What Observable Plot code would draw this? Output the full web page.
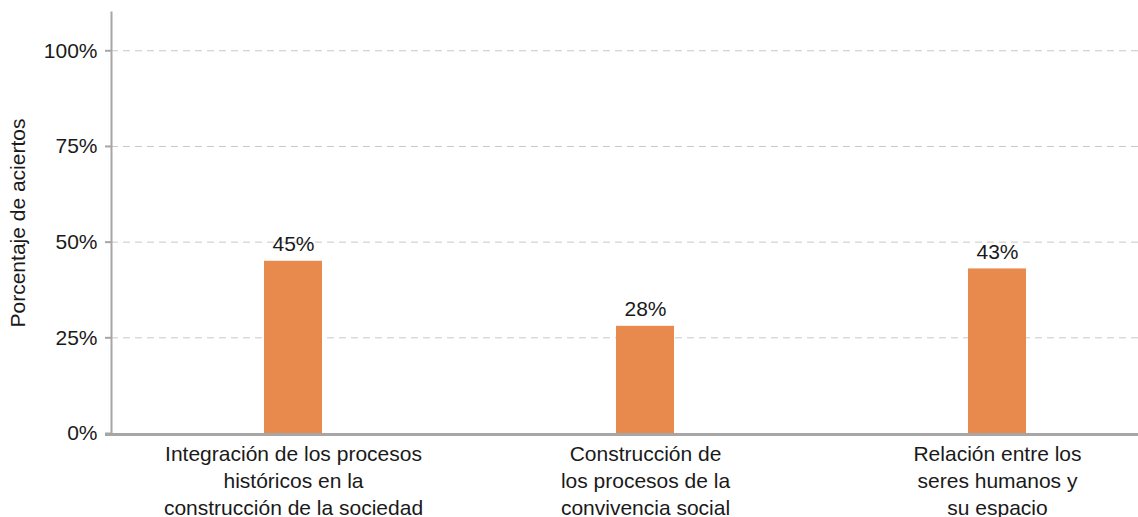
<!DOCTYPE html>
<html>
<head>
<meta charset="utf-8">
<script src="https://cdn.jsdelivr.net/npm/d3@7"></script>
<script src="https://cdn.jsdelivr.net/npm/@observablehq/plot@0.6"></script>
<style>
  html, body { margin: 0; padding: 0; background: #ffffff; }
  #chart { width: 1138px; height: 517px; }
</style>
</head>
<body>
<div id="chart"></div>
<script>
const categorias = [
  "Integración de los procesos\nhistóricos en la\nconstrucción de la sociedad",
  "Construcción de\nlos procesos de la\nconvivencia social",
  "Relación entre los\nseres humanos y\nsu espacio"
];
const porcentajes = [0.45, 0.28, 0.43];
const ticksY = [0, 0.25, 0.5, 0.75, 1];
const tituloY = "Porcentaje de aciertos";

const datos = categorias.map((c, i) => ({cat: c, valor: porcentajes[i]}));

const FONT = "'Liberation Sans', Arial, Helvetica, sans-serif";
const GRIS = "#a6a6a6";
const TEXTO = "#1a1a1a";

const chart = Plot.plot({
  width: 1138,
  height: 517,
  marginLeft: 111,
  marginRight: 0,
  marginTop: 12,
  marginBottom: 84,
  style: {fontFamily: FONT, fontSize: "21px", background: "#ffffff", color: TEXTO},
  x: {domain: categorias, range: [117, 1173], paddingInner: 0.835, paddingOuter: 0.4175, axis: null},
  y: {domain: [0, 1.1]},
  marks: [
    Plot.gridY(ticksY.filter(d => d > 0), {stroke: "#c8c8c8", strokeOpacity: 1, strokeDasharray: "7,5", strokeWidth: 1}),
    Plot.barY(datos, {x: "cat", y: "valor", fill: "#e8894e"}),
    Plot.text(datos, {x: "cat", y: "valor", text: d => Math.round(d.valor * 100) + "%", lineAnchor: "bottom", dy: -10, fontSize: 21, fill: TEXTO}),
    Plot.text(datos, {x: "cat", y: () => 0, text: "cat", lineAnchor: "top", dy: 8, lineHeight: 1.3, fontSize: 21, fill: TEXTO}),
    Plot.axisY({
      ticks: ticksY,
      tickFormat: d => Math.round(d * 100) + "%",
      tickSize: 6,
      tickPadding: 8,
      stroke: GRIS,
      strokeWidth: 2,
      fill: TEXTO,
      fontSize: 21,
      label: tituloY,
      labelAnchor: "center",
      labelArrow: "none",
      labelOffset: 101
    }),
    Plot.frame({anchor: "left", stroke: GRIS, strokeWidth: 2}),
    Plot.ruleY([0], {stroke: GRIS, strokeWidth: 3, insetLeft: -6, dy: 1})
  ]
});
document.getElementById("chart").appendChild(chart);
</script>
</body>
</html>
